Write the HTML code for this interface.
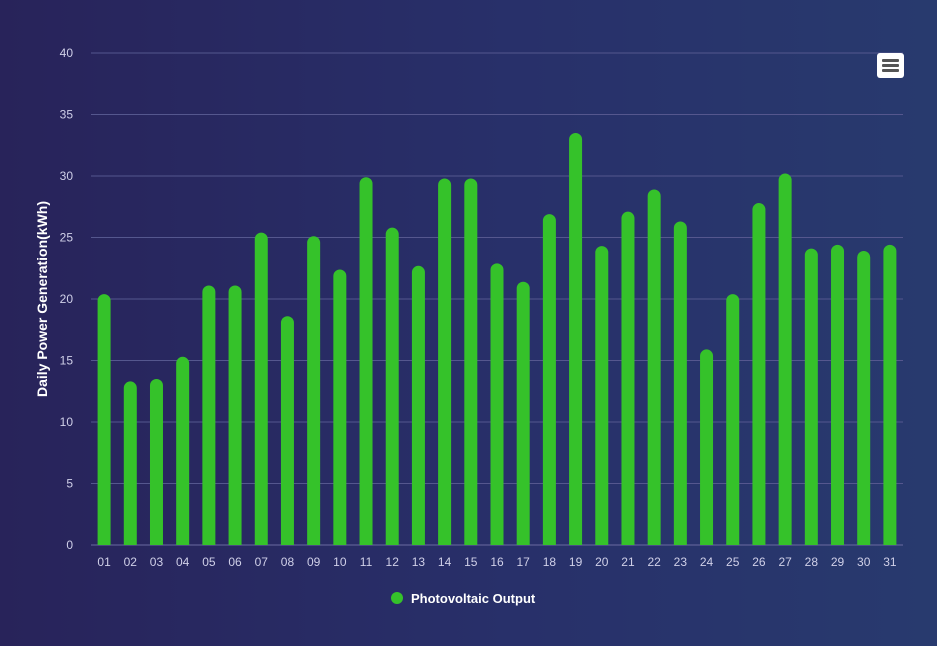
<!DOCTYPE html>
<html><head><meta charset="utf-8"><style>
html,body{margin:0;padding:0;width:937px;height:646px;overflow:hidden}
body{background:linear-gradient(90deg,#28235a 0%,#28306a 55%,#283a6e 100%);font-family:"Liberation Sans",sans-serif}
</style></head><body>
<svg id="chart" width="937" height="646" xmlns="http://www.w3.org/2000/svg">
<g id="grid"></g>
<g id="yticks"></g>
<g id="xticks"></g>
<g id="bars"></g>
<text transform="translate(47,299) rotate(-90)" text-anchor="middle" fill="#fff" font-size="14" font-weight="bold">Daily Power Generation(kWh)</text>
<g>
<circle cx="397" cy="598" r="6" fill="#35c22a"/>
<text x="411" y="603" fill="#fff" font-size="13" font-weight="bold">Photovoltaic Output</text>
</g>
<g>
<rect x="877" y="53" width="27" height="25" rx="3" fill="#fff"/>
<rect x="882" y="59" width="17" height="3" rx="1" fill="#555"/>
<rect x="882" y="64" width="17" height="3" rx="1" fill="#555"/>
<rect x="882" y="69" width="17" height="3" rx="1" fill="#555"/>
</g>
</svg>
<script>
const categories=["01","02","03","04","05","06","07","08","09","10","11","12","13","14","15","16","17","18","19","20","21","22","23","24","25","26","27","28","29","30","31"];
const values=[20.4,13.3,13.5,15.3,21.1,21.1,25.4,18.6,25.1,22.4,29.9,25.8,22.7,29.8,29.8,22.9,21.4,26.9,33.5,24.3,27.1,28.9,26.3,15.9,20.4,27.8,30.2,24.1,24.4,23.9,24.4];
const yTicks=[0,5,10,15,20,25,30,35,40];
{
const NS="http://www.w3.org/2000/svg";
const plotLeft=91,plotRight=903,plotTop=53,plotBottom=545,yMax=40;
const yScale=v=>plotBottom-(v/yMax)*(plotBottom-plotTop);
const band=(plotRight-plotLeft)/categories.length;
const xScale=i=>plotLeft+band*(i+0.5);
function mk(t,a){const e=document.createElementNS(NS,t);for(const k in a)e.setAttribute(k,a[k]);return e;}
const grid=document.getElementById('grid'),yt=document.getElementById('yticks'),xt=document.getElementById('xticks'),bars=document.getElementById('bars');
yTicks.forEach(v=>{
 const l=mk('line',{x1:plotLeft,x2:plotRight,y1:yScale(v),y2:yScale(v),stroke:v===0?'#6a6aa0':'#55578e','stroke-width':1});
 
 
 grid.appendChild(l);
 const t=mk('text',{x:73,y:yScale(v)+4,'text-anchor':'end',fill:'#d0d0e8','font-size':12});
 t.textContent=v;
 
 
 yt.appendChild(t);
});
categories.forEach((c,i)=>{
 const t=mk('text',{x:xScale(i),y:566,'text-anchor':'middle',fill:'#d0d0e8','font-size':12});
 t.textContent=c;
 
 
 xt.appendChild(t);
 const w=13,r=6.5,bx=xScale(i)-w/2,by=yScale(values[i]);
 const p=mk('path',{d:`M${bx},${plotBottom}V${by+r}A${r},${r} 0 0 1 ${bx+w},${by+r}V${plotBottom}Z`,fill:'#35c22a'});
 
 
 bars.appendChild(p);
});
}
</script>
</body></html>
